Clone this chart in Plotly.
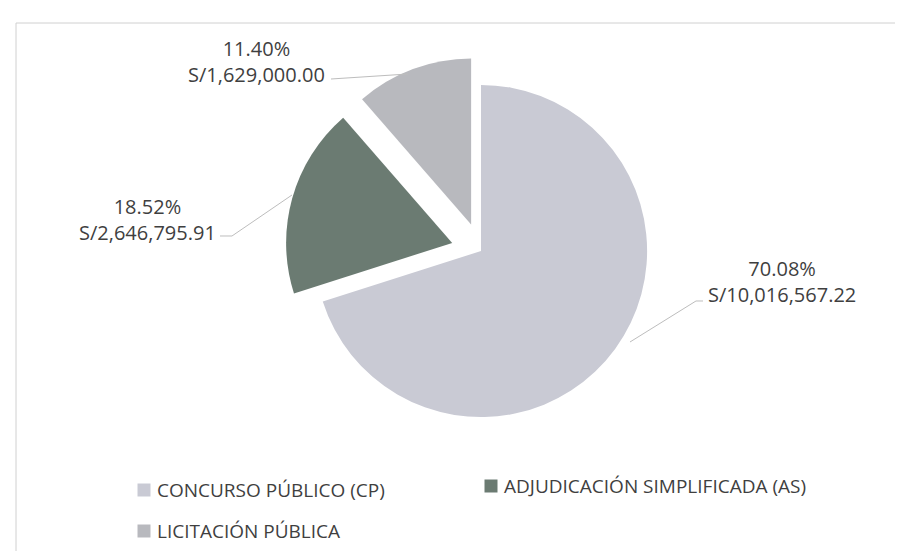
import plotly.graph_objects as go

# ---- data ----
categories = ["CONCURSO PÚBLICO (CP)", "ADJUDICACIÓN SIMPLIFICADA (AS)", "LICITACIÓN PÚBLICA"]
amounts = [10016567.22, 2646795.91, 1629000.00]
percents = [70.08, 18.52, 11.40]
colors = ["#c9cad4", "#6b7b72", "#b8b9be"]
pulls = [0, 0.18, 0.17]

W, H = 903, 551
FONT = "Open Sans"
TXT = "#3f3f3f"

def px(x):
    return x / W

def py(y):
    return 1 - y / H

fig = go.Figure()
fig.add_trace(go.Pie(
    labels=categories,
    values=amounts,
    sort=False,
    direction="clockwise",
    rotation=0,
    pull=pulls,
    marker=dict(colors=colors, line=dict(width=0)),
    textinfo="none",
    hoverinfo="label+value+percent",
    showlegend=False,
    domain=dict(x=[px(223), px(723)], y=[py(243 + 196), py(243 - 196)]),
))

# data labels (text built from the data arrays)
label_pos = [(774, 274), (139, 211), (248, 54)]
for cat, amt, pct, (lx, ly) in zip(categories, amounts, percents, label_pos):
    fig.add_annotation(
        x=px(lx), y=py(ly), xref="paper", yref="paper",
        text=f"{pct:.2f}%<br>S/{amt:,.2f}",
        showarrow=False, xanchor="center", yanchor="middle",
        font=dict(family=FONT, size=20, color=TXT),
    )

# leader lines
leaders = [
    [(695, 293), (688, 293), (622, 334)],
    [(212, 228), (224, 228), (284, 187)],
    [(323, 71), (400, 66)],
]
shapes = []
for pts in leaders:
    path = "M" + " L".join(f"{px(x):.5f},{py(y):.5f}" for x, y in pts)
    shapes.append(dict(type="path", xref="paper", yref="paper", path=path,
                       line=dict(color="#bdbdbd", width=1)))

# legend (squares + category text from the data arrays)
legend_pos = [(136, 482), (483, 478), (136, 523)]
for cat, col, (lx, ly) in zip(categories, colors, legend_pos):
    shapes.append(dict(type="rect", xref="paper", yref="paper",
                       x0=px(lx - 6.5), x1=px(lx + 6.5), y0=py(ly + 6.5), y1=py(ly - 6.5),
                       fillcolor=col, line=dict(width=0)))
    fig.add_annotation(
        x=px(lx + 11), y=py(ly), xref="paper", yref="paper",
        text=cat, showarrow=False, xanchor="left", yanchor="middle",
        font=dict(family=FONT, size=19, color=TXT),
    )

# chart frame
shapes.append(dict(type="path", xref="paper", yref="paper",
                   path=f"M{px(8)},{py(548)} L{px(8)},{py(15)} L{px(892)},{py(15)}",
                   line=dict(color="#d0d0d0", width=1)))
shapes.append(dict(type="line", xref="paper", yref="paper",
                   x0=px(8), y0=py(548), x1=px(902), y1=py(548),
                   line=dict(color="#d0d0d0", width=1)))

fig.update_layout(
    width=W, height=H,
    margin=dict(l=0, r=0, t=0, b=0),
    paper_bgcolor="white",
    plot_bgcolor="white",
    font=dict(family=FONT, color=TXT),
    shapes=shapes,
    showlegend=False,
)

fig.write_html("out.html")
